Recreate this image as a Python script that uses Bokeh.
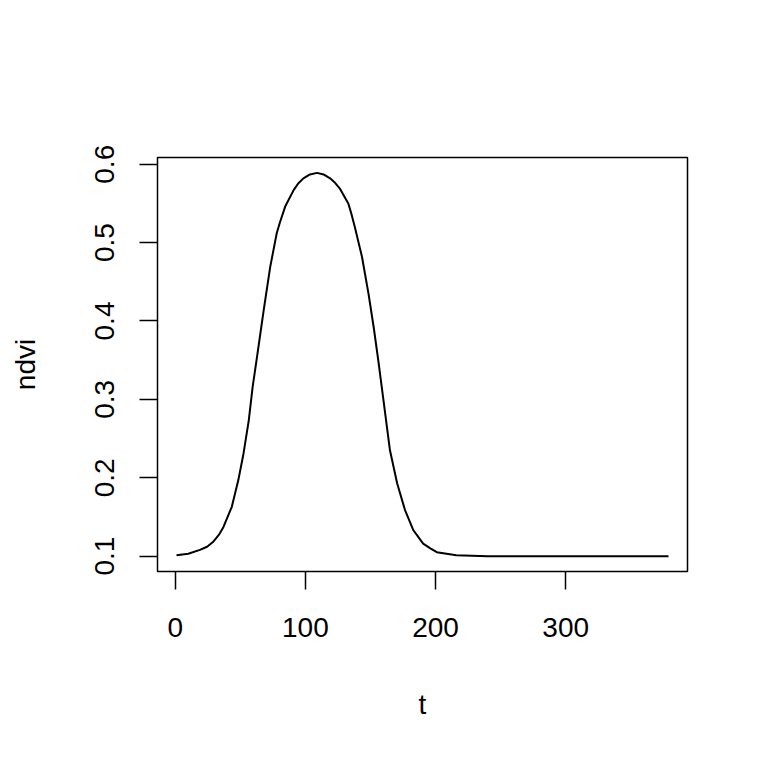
from bokeh.plotting import figure
from bokeh.models import Range1d, FixedTicker
from bokeh.embed import file_html
from bokeh.resources import INLINE

# values
t = [1, 10, 19, 24.5, 29, 33.5, 37, 43.5, 48.5, 52.5, 56.5, 59.5, 62.5, 68, 73, 78,
     80.5, 84.5, 91, 94.5, 98.5, 103.5, 109, 114, 119, 123, 126.5, 129.5, 133, 135.5,
     138, 143.5, 148.5, 152.5, 156, 160, 165, 170.5, 176.5, 183, 187, 190.5, 196,
     201, 216, 240, 280, 320, 379]
ndvi = [0.101, 0.103, 0.108, 0.112, 0.118, 0.127, 0.137, 0.163, 0.197, 0.231, 0.273,
        0.316, 0.350, 0.414, 0.469, 0.512, 0.526, 0.546, 0.567, 0.5755, 0.582, 0.587,
        0.589, 0.587, 0.582, 0.576, 0.569, 0.560, 0.550, 0.536, 0.520, 0.482, 0.435,
        0.392, 0.350, 0.299, 0.235, 0.193, 0.159, 0.133, 0.124, 0.116, 0.110, 0.105,
        0.101, 0.100, 0.100, 0.100, 0.100]
x_ticks = [0, 100, 200, 300]
y_ticks = [0.1, 0.2, 0.3, 0.4, 0.5, 0.6]

FONT = "Liberation Sans"
FS = "28px"

p = figure(frame_width=530, frame_height=414,
           min_border_left=157, min_border_top=157,
           min_border_right=60, min_border_bottom=180,
           x_range=Range1d(-13.6, 393.6), y_range=Range1d(0.0804, 0.6086),
           output_backend="svg", toolbar_location=None,
           x_axis_label="t", y_axis_label="ndvi")

p.line(t, ndvi, line_color="black", line_width=2, line_join="round")

p.grid.visible = False
p.outline_line_color = "black"
p.outline_line_width = 1.5
p.background_fill_color = "white"
p.border_fill_color = "white"

p.xaxis.ticker = FixedTicker(ticks=x_ticks)
p.yaxis.ticker = FixedTicker(ticks=y_ticks)
p.yaxis.major_label_orientation = "vertical"

for ax in (p.xaxis, p.yaxis):
    ax.axis_line_color = None
    ax.major_tick_out = 18
    ax.major_tick_in = 0
    ax.major_tick_line_width = 1.5
    ax.major_tick_line_color = "black"
    ax.minor_tick_line_color = None
    ax.major_label_text_font = FONT
    ax.major_label_text_font_size = FS
    ax.major_label_text_color = "black"
    ax.axis_label_text_font = FONT
    ax.axis_label_text_font_size = FS
    ax.axis_label_text_font_style = "normal"
    ax.axis_label_text_color = "black"

p.xaxis.major_label_standoff = 28
p.xaxis.axis_label_standoff = 49
p.yaxis.major_label_standoff = 25
p.yaxis.axis_label_standoff = 52

open("out.html", "w").write(file_html(p, INLINE))
